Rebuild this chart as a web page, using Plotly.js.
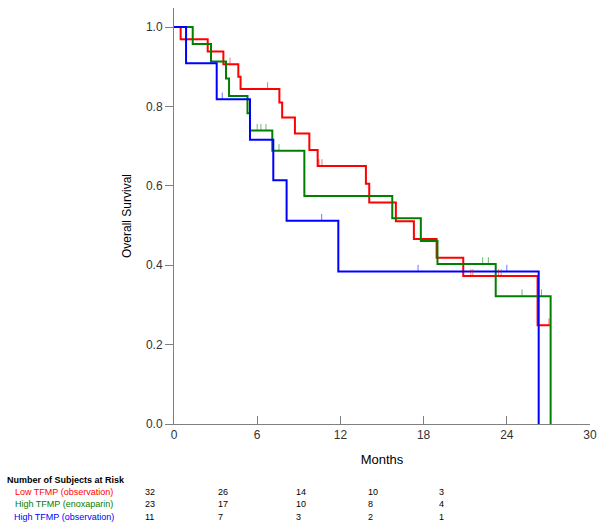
<!DOCTYPE html>
<html>
<head>
<meta charset="utf-8">
<script src="https://cdn.plot.ly/plotly-3.0.1.min.js"></script>
<style>html,body{margin:0;padding:0;background:#fff;}#chart{width:603px;height:530px;}</style>
</head>
<body>
<div id="chart"></div>
<script>
// ---- Data ----
const groupNames = ["Low TFMP (observation)", "High TFMP (enoxaparin)", "High TFMP (observation)"];

const timesLow = [0, 0.48, 2.43, 3.56, 4.64, 4.8, 7.6, 7.8, 8.72, 9.76, 10.36, 13.84, 14.08, 16.0, 17.3, 18.94, 20.86, 26.22, 27.1];
const survLow  = [1, 0.969, 0.938, 0.906, 0.875, 0.844, 0.81, 0.772, 0.732, 0.69, 0.65, 0.605, 0.558, 0.511, 0.466, 0.419, 0.373, 0.249, 0.249];
const censorLow = [4.04, 6.75, 10.45, 10.67, 21.4, 21.55, 23.4, 23.6, 27.04];

const timesEnox = [0, 1.35, 2.67, 3.75, 3.97, 5.3, 5.48, 7.09, 9.4, 15.74, 17.8, 19.0, 23.2, 27.16];
const survEnox  = [1, 0.957, 0.913, 0.87, 0.826, 0.783, 0.739, 0.688, 0.574, 0.518, 0.461, 0.403, 0.322, 0];
const censorEnox = [6.0, 6.27, 6.63, 7.57, 22.26, 22.67, 25.1, 26.5];

const timesHigh = [0, 0.87, 3.08, 5.48, 7.16, 8.12, 11.85, 26.3];
const survHigh  = [1, 0.909, 0.818, 0.716, 0.614, 0.512, 0.384, 0];
const censorHigh = [3.48, 10.65, 17.6, 24.0];

const riskHeader = "Number of Subjects at Risk";
const riskLow  = [32, 26, 14, 10, 3];
const riskEnox = [23, 17, 10, 8, 4];
const riskHigh = [11, 7, 3, 2, 1];

const xTicks = [0, 6, 12, 18, 24, 30];
const yTicks = [0, 0.2, 0.4, 0.6, 0.8, 1.0];

// ---- Styles / layout constants ----
const colors = ["#ff0000", "#008000", "#0000ff"];
const FONT = "Arial, 'Liberation Sans', sans-serif";
const M = {l: 174, r: 13, t: 8, b: 106};
const W = 603, H = 530;
const plotW = W - M.l - M.r, plotH = H - M.t - M.b;
const riskColPx = [143, 216, 294, 366, 437];
const riskRowPx = [492, 504, 517];
const riskHeaderPx = {x: 5, y: 480};
const riskLabelCenterPx = 64;

function survAt(times, surv, t) {
  let v = surv[0];
  for (let i = 0; i < times.length; i++) { if (times[i] <= t) v = surv[i]; }
  return v;
}

const groups = [
  {t: timesLow, s: survLow, c: censorLow, risk: riskLow},
  {t: timesEnox, s: survEnox, c: censorEnox, risk: riskEnox},
  {t: timesHigh, s: survHigh, c: censorHigh, risk: riskHigh}
];

const traces = [];
groups.forEach((g, i) => {
  traces.push({
    x: g.t, y: g.s, type: "scatter", mode: "lines",
    line: {shape: "hv", color: colors[i], width: 2},
    name: groupNames[i], hoverinfo: "skip"
  });
});
groups.forEach((g, i) => {
  traces.push({
    x: g.c, y: g.c.map(t => survAt(g.t, g.s, t)), type: "scatter", mode: "markers",
    marker: {size: 1, opacity: 0, color: colors[i]},
    error_y: {type: "constant", value: 0.017, symmetric: false, valueminus: 0, width: 0, thickness: 1, color: colors[i]},
    opacity: 0.55, hoverinfo: "skip", showlegend: false
  });
});

const px2x = px => (px - M.l) / plotW;
const py2y = py => (H - M.b - py) / plotH;

const annotations = [];
annotations.push({
  xref: "paper", yref: "paper", x: px2x(riskHeaderPx.x), y: py2y(riskHeaderPx.y),
  xanchor: "left", yanchor: "middle", showarrow: false,
  text: "<b>" + riskHeader + "</b>", font: {family: FONT, size: 9, color: "#000"}
});
groups.forEach((g, i) => {
  annotations.push({
    xref: "paper", yref: "paper", x: px2x(riskLabelCenterPx), y: py2y(riskRowPx[i]),
    xanchor: "center", yanchor: "middle", showarrow: false,
    text: groupNames[i], font: {family: FONT, size: 9, color: colors[i]}
  });
  g.risk.forEach((n, j) => {
    annotations.push({
      xref: "paper", yref: "paper", x: px2x(riskColPx[j]), y: py2y(riskRowPx[i]),
      xanchor: "left", yanchor: "middle", showarrow: false,
      text: String(n), font: {family: FONT, size: 9, color: "#000"}
    });
  });
});

const layout = {
  width: W, height: H,
  margin: M,
  paper_bgcolor: "#fff", plot_bgcolor: "#fff",
  showlegend: false,
  font: {family: FONT, size: 12, color: "#333"},
  xaxis: {
    range: [0, 30], tickvals: xTicks, ticks: "inside", ticklen: 8, tickcolor: "#808080",
    showline: true, linecolor: "#808080", linewidth: 1, showgrid: false, zeroline: false,
    tickfont: {family: FONT, size: 12, color: "#333"},
    title: {text: "Months", font: {family: FONT, size: 13, color: "#000"}, standoff: 13}
  },
  yaxis: {
    range: [0, plotH / 397], tickvals: yTicks, tickformat: ".1f", ticks: "outside", ticklen: 8, tickcolor: "#808080",
    showline: true, linecolor: "#808080", linewidth: 1, showgrid: false, zeroline: false,
    tickfont: {family: FONT, size: 12, color: "#333"},
    title: {text: "Overall Survival", font: {family: FONT, size: 12, color: "#000"}, standoff: 11}
  },
  annotations: annotations
};

Plotly.newPlot("chart", traces, layout, {displayModeBar: false, staticPlot: true});
</script>
</body>
</html>
